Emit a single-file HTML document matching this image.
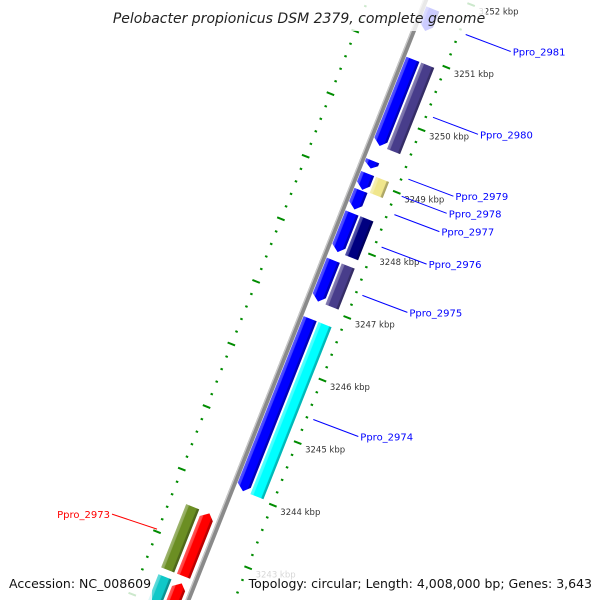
<!DOCTYPE html>
<html><head><meta charset="utf-8"><style>
html,body{margin:0;padding:0;background:#fff;width:600px;height:600px;overflow:hidden}
svg{display:block}
text{font-family:"DejaVu Sans","Liberation Sans",sans-serif}
</style></head><body>
<svg id="map" width="600" height="600" viewBox="0 0 600 600" xmlns="http://www.w3.org/2000/svg">
<defs>
<linearGradient id="shade" x1="0" x2="1" y1="0" y2="0">
<stop offset="0" stop-color="#fff" stop-opacity="0.35"/>
<stop offset="0.2" stop-color="#fff" stop-opacity="0.25"/>
<stop offset="0.25" stop-color="#fff" stop-opacity="0"/>
<stop offset="0.8" stop-color="#000" stop-opacity="0"/>
<stop offset="0.85" stop-color="#000" stop-opacity="0.25"/>
<stop offset="1" stop-color="#000" stop-opacity="0.3"/>
</linearGradient>
</defs>
<g id="plot" transform="translate(232,489) rotate(21.6)"></g>
<g id="labels"></g>
<rect x="108" y="0" width="378" height="31" fill="#fff" fill-opacity="0.8"/>
<text x="299" y="23" text-anchor="middle" font-size="14" font-style="italic" fill="#222">Pelobacter propionicus DSM 2379, complete genome</text>
<rect x="0" y="581" width="152" height="19" fill="#fff" fill-opacity="0.8"/>
<rect x="255" y="568" width="345" height="32" fill="#fff" fill-opacity="0.8"/>
<text x="9" y="588" font-size="12.5" fill="#111">Accession: NC_008609</text>
<text x="592" y="588" text-anchor="end" font-size="12.5" fill="#111">Topology: circular; Length: 4,008,000 bp; Genes: 3,643</text>
</svg>
<script>
const geneNames = ["Ppro_2973","Ppro_2972","Ppro_2974","Ppro_2975","Ppro_2976","Ppro_2977","Ppro_2978","Ppro_2979","Ppro_2980","Ppro_2981"];
const geneStarts = [3242530,3241600,3244030,3247060,3247850,3248530,3248845,3249185,3249545,3251385];
const geneEnds = [3243540,3242420,3246780,3247715,3248470,3248830,3249100,3249305,3250925,3251730];
const geneStrands = [-1,-1,1,1,1,1,1,1,1,1];
const cogColors = ["#6b8e23","#10c8c8","#00ffff","#483d8b","#000080",null,"#f0e68c",null,"#483d8b",null];
const showLabel = [true,false,true,true,true,true,true,true,true,true];
const tickRangeStart = 3241800;
const tickRangeEnd = 3252600;
const tickStep = 200;

const NS = "http://www.w3.org/2000/svg";
const ORIGIN_BP = 3244000, PX_PER_BP = 0.0673;
const ox = 232, oy = 489, ang = 21.6 * Math.PI / 180;
const nx = Math.cos(ang), ny = Math.sin(ang), dx = Math.sin(ang), dy = -Math.cos(ang);
function tOf(bp){ return (bp - ORIGIN_BP) * PX_PER_BP; }
function screen(bp, r){ const t = tOf(bp); return [ox + t*dx + r*nx, oy + t*dy + r*ny]; }
const plot = document.getElementById('plot');
const labels = document.getElementById('labels');
function mk(tag, attrs, parent){ const e = document.createElementNS(NS, tag); for (const k in attrs) e.setAttribute(k, attrs[k]); parent.appendChild(e); return e; }

let bb = mk('rect', {x:-2.5, y:-700, width:5, height:1400, fill:'#8a8a8a'}, plot);


let bbl = mk('rect', {x:-2.5, y:-700, width:1.3, height:1400, fill:'#c8c8c8'}, plot);



for (let bp = tickRangeStart; bp <= tickRangeEnd; bp += tickStep) {
  const y = -tOf(bp);
  const major = bp % 1000 === 0;
  const o = major ? mk('rect', {x:40, y:y-1, width:8, height:2, fill:'#008c00'}, plot)
                  : mk('rect', {x:42, y:y-1, width:2.5, height:2, fill:'#008c00'}, plot);
  
  
  const i = major ? mk('rect', {x:-58, y:y-1, width:8, height:2, fill:'#008c00'}, plot)
                  : mk('rect', {x:-55, y:y-1, width:2.5, height:2, fill:'#008c00'}, plot);
  
  
  if (major) {
    const p = screen(bp, 52);
    const tl = mk('text', {x:p[0].toFixed(1), y:(p[1]+7).toFixed(1), 'font-size':8.5, fill:'#333'}, labels);
    tl.textContent = (bp/1000) + ' kbp';
    
    
  }
}

for (let g = 0; g < geneNames.length; g++) {
  const ts = tOf(geneStarts[g]), te = tOf(geneEnds[g]);
  const yb = -ts, yt = -te;
  const s = geneStrands[g];
  const ah = Math.min(6, (yb-yt)*0.6);
  let r0, r1, c0, c1;
  if (s > 0) { r0 = 3; r1 = 17; c0 = 19; c1 = 33; } else { r0 = -20; r1 = -6; c0 = -37; c1 = -23; }
  const rm = (r0 + r1) / 2;
  let pts;
  if (s > 0) pts = [[r0,yt],[r1,yt],[r1,yb-ah],[rm+1,yb],[r0,yb-ah]];
  else pts = [[r0,yb],[r1,yb],[r1,yt+ah],[rm+1,yt],[r0,yt+ah]];
  const ptsStr = pts.map(p => p[0].toFixed(1)+','+p[1].toFixed(1)).join(' ');
  const cds = mk('polygon', {points:ptsStr, fill: s > 0 ? '#0000ff' : '#ff0000'}, plot);
  
  
  const cdsS = mk('polygon', {points:ptsStr, fill:'url(#shade)'}, plot);
  
  
  if (cogColors[g]) {
    const cog = mk('rect', {x:c0, y:yt, width:c1-c0, height:yb-yt, fill:cogColors[g]}, plot);
    
    
    const cogS = mk('rect', {x:c0, y:yt, width:c1-c0, height:yb-yt, fill:'url(#shade)'}, plot);
    
    
  }
  if (showLabel[g]) {
    const mid = (geneStarts[g] + geneEnds[g]) / 2;
    const col = s > 0 ? '#0000ff' : '#ff0000';
    const a = screen(mid, s > 0 ? 50 : -55);
    const b = s > 0 ? [a[0]+45, a[1]+17] : [a[0]-45, a[1]-15];
    const ln = mk('line', {x1:a[0].toFixed(1), y1:a[1].toFixed(1), x2:b[0].toFixed(1), y2:b[1].toFixed(1), stroke:col, 'stroke-width':1}, labels);
    
    
    const tx = mk('text', {x:(s > 0 ? b[0]+2 : b[0]-2).toFixed(1), y:(b[1]+4).toFixed(1), 'font-size':10, fill:col, 'text-anchor': s > 0 ? 'start' : 'end'}, labels);
    tx.textContent = geneNames[g];
    
    
  }
}
</script>
</body></html>
